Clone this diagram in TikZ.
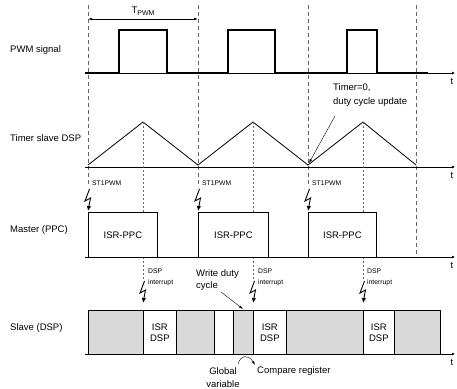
\documentclass[tikz,border=0pt]{standalone}
\usepackage{fontspec}
\setmainfont{Liberation Sans}
\usetikzlibrary{arrows.meta}
\begin{document}
\begin{tikzpicture}[x=1pt,y=-1pt,
  lbl/.style={font=\fontsize{9.5}{13}\selectfont, inner sep=0pt},
  small/.style={font=\fontsize{6.8}{10.5}\selectfont, inner sep=0pt},
  axis/.style={line width=0.8pt, -{Latex[length=3pt,width=3pt]}},
  pwmline/.style={line width=2pt},
  guide/.style={gray!80!black, line width=0.6pt, dash pattern=on 4pt off 3pt},
  fine/.style={gray!80!black, line width=0.5pt, dash pattern=on 2pt off 2pt},
  tri/.style={line width=0.8pt},
  boltst/.style={line width=0.9pt, -{Latex[length=5pt,width=4.5pt]}},
  thinarrow/.style={line width=0.4pt, -{Latex[length=4pt,width=2.5pt]}},
  ppcbox/.style={draw, line width=0.8pt, anchor=north west, minimum height=45pt, inner sep=0pt, font=\fontsize{9.5}{13}\selectfont},
  dspbox/.style={draw, line width=0.8pt, anchor=north west, minimum height=44pt, inner sep=0pt, align=center, font=\fontsize{9.5}{11}\selectfont},
  busy/.style={dspbox, fill=gray!30},
  bolt/.pic={\draw[boltst] (1.5,0) -- (-3,12) -- (2.5,9) -- (0,22);}
]
\useasboundingbox (0,0) rectangle (457,388);

% ---- row labels
\node[lbl, anchor=west] (lpwm) at (10,50) {PWM signal};
\node[lbl, anchor=west] (ltim) at (10,138) {Timer slave DSP};
\node[lbl, anchor=west] (lmas) at (10,230) {Master (PPC)};
\node[lbl, anchor=west] (lsla) at (10,328) {Slave (DSP)};

% ---- guide dashed lines
\foreach \x/\e [count=\i] in {88/186,198/186,308/186,416/257}{
  \coordinate (gt\i) at (\x,5);
  \coordinate (gb\i) at (\x,\e);
  \draw[guide] (gt\i) -- (gb\i);
}

% ---- T_PWM
\coordinate (tpa) at (88,19);
\coordinate (tpb) at (198,19);
\draw[line width=0.6pt, {Latex[length=4pt,width=2.5pt]}-{Latex[length=4pt,width=2.5pt]}] (tpa) -- (tpb);
\node[lbl] (tpwm) at (143,11) {T\raisebox{-0.35ex}{\fontsize{7}{8}\selectfont PWM}};

% ---- axes
\foreach \y/\n in {73/1,167/2,257/3,354/4}{
  \coordinate (as\n) at (85,\y);
  \coordinate (ae\n) at (455,\y);
  \draw[axis] (as\n) -- (ae\n);
  \node[lbl] (t\n) at (452,\y+8) {t};
}

% ---- PWM signal
\draw[pwmline] (85,73) -- (119,73) -- (119,30) -- (167,30) -- (167,73)
  -- (228,73) -- (228,30) -- (275,30) -- (275,73)
  -- (347,73) -- (347,30) -- (377,30) -- (377,73) -- (428,73);

% ---- timer triangle
\draw[tri] (88,165) -- (143,122) -- (198,165) -- (253,122) -- (308,165) -- (363,122) -- (416,165);

% ---- fine dotted lines from peaks
\foreach \x [count=\i] in {143,253,363}{
  \coordinate (pk\i) at (\x,122);
  \coordinate (pb\i) at (\x,212);
  \coordinate (qa\i) at (\x,257);
  \coordinate (qb\i) at (\x,279);
  \draw[fine] (pk\i) -- (pb\i);
  \draw[fine] (qa\i) -- (qb\i);
}

% ---- master boxes
\node[ppcbox, minimum width=69pt] (p1) at (88,212) {ISR-PPC};
\node[ppcbox, minimum width=70pt] (p2) at (198,212) {ISR-PPC};
\node[ppcbox, minimum width=68pt] (p3) at (308,212) {ISR-PPC};

% ---- ST1PWM bolts
\foreach \x [count=\i] in {88,198,308}{
  \pic at (\x,189) {bolt};
  \node[small, anchor=west] (st\i) at (\x+4,183) {ST1PWM};
}

% ---- slave boxes
\node[busy, minimum width=55pt] (s1) at (88,310) {};
\node[dspbox, minimum width=33pt] (s2) at (143,310) {ISR\\DSP};
\node[busy, minimum width=38pt] (s3) at (176,310) {};
\node[dspbox, minimum width=19pt] (s4) at (214,310) {};
\node[busy, minimum width=20pt] (s5) at (233,310) {};
\node[dspbox, minimum width=33pt] (s6) at (253,310) {ISR\\DSP};
\node[busy, minimum width=77pt] (s7) at (286,310) {};
\node[dspbox, minimum width=31pt] (s8) at (363,310) {ISR\\DSP};
\node[busy, minimum width=46pt] (s9) at (394,310) {};

% ---- DSP interrupt bolts
\foreach \x/\lx [count=\i] in {143/148,253/258,363/367}{
  \pic at (\x,281) {bolt};
  \node[small, anchor=north west, align=left] (di\i) at (\lx,269) {DSP\\interrupt};
}

% ---- annotations
\node[lbl, anchor=north west, align=left, font=\fontsize{9.5}{12}\selectfont] (wdc) at (196,269) {Write duty\\cycle};
\coordinate (wa) at (221,292);
\coordinate (wb) at (243,309);
\draw[thinarrow] (wa) -- (wb);

\node[lbl, align=center, font=\fontsize{9.5}{13}\selectfont] (gv) at (223,377.5) {Global\\variable};
\node[lbl, anchor=west] (cr) at (257,371) {Compare register};
\coordinate (ca) at (238,364);
\coordinate (cb) at (255,365);
\draw[thinarrow] (ca) .. controls (241,354) and (249,355) .. (cb);

\node[lbl, anchor=north west, align=left, font=\fontsize{9.5}{14}\selectfont] (tz) at (333,83) {Timer=0,\\duty cycle update};
\coordinate (za) at (335,116);
\coordinate (zb) at (309,163);
\draw[thinarrow] (za) -- (zb);
\end{tikzpicture}
\end{document}
